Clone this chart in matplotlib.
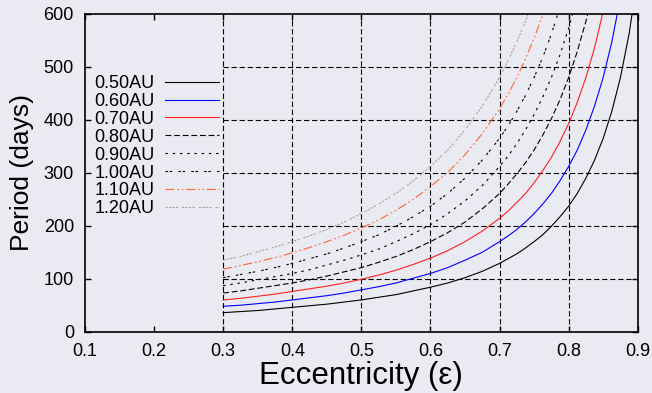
import matplotlib
matplotlib.use("Agg")
import matplotlib.pyplot as plt

plt.rcParams['font.family'] = ['Liberation Sans', 'DejaVu Sans']
plt.rcParams['lines.scale_dashes'] = False

# ---- data ----
ecc = [0.300, 0.325, 0.350, 0.375, 0.400, 0.425, 0.450, 0.475, 0.500,
       0.525, 0.550, 0.575, 0.600, 0.625, 0.650, 0.675, 0.700,
       0.7125, 0.725, 0.7375, 0.750, 0.7625, 0.775, 0.7875, 0.800,
       0.8125, 0.825, 0.8375, 0.850, 0.8625, 0.875, 0.8875, 0.900]

p_050 = [36, 38, 40, 43, 46, 49, 52, 56, 60, 65, 70, 77, 84, 92, 102, 114, 129,
         138, 147, 158, 170, 183, 199, 217, 237, 261, 290, 324, 365, 416, 480, 562, 671]
p_060 = [48, 50, 53, 56, 60, 64, 68, 73, 79, 85, 92, 101, 110, 121, 135, 150, 170,
         181, 193, 207, 223, 241, 261, 285, 312, 343, 381, 426, 480, 547, 631]
p_070 = [60, 63, 67, 71, 76, 81, 86, 92, 99, 107, 116, 127, 139, 153, 170, 190, 214,
         228, 244, 261, 281, 304, 329, 359, 393, 433, 480, 536, 605]
p_080 = [73, 77, 82, 87, 92, 98, 105, 113, 121, 131, 142, 155, 170, 187, 207, 232, 261,
         279, 298, 319, 343, 371, 402, 438, 480, 529, 586, 655]
p_090 = [87, 92, 98, 104, 110, 117, 126, 135, 145, 156, 170, 185, 202, 223, 247, 276, 312,
         332, 355, 381, 410, 443, 480, 523, 573, 631]
p_100 = [102, 108, 114, 121, 129, 138, 147, 158, 170, 183, 199, 217, 237, 261, 290, 324, 365,
         389, 416, 446, 480, 518, 562, 613]
p_110 = [118, 125, 132, 140, 149, 159, 170, 182, 196, 211, 229, 250, 274, 301, 334, 374, 421,
         449, 480, 515, 554, 598, 649]
p_120 = [135, 142, 151, 160, 170, 181, 193, 207, 223, 241, 261, 285, 312, 343, 381, 426, 480,
         512, 547, 586, 631]

labels = ['0.50AU', '0.60AU', '0.70AU', '0.80AU', '0.90AU', '1.00AU', '1.10AU', '1.20AU']
series = [p_050, p_060, p_070, p_080, p_090, p_100, p_110, p_120]

x_ticks = [0.1, 0.2, 0.3, 0.4, 0.5, 0.6, 0.7, 0.8, 0.9]
y_ticks = [0, 100, 200, 300, 400, 500, 600]
grid_x = [0.3, 0.4, 0.5, 0.6, 0.7, 0.8]
grid_y = [100, 200, 300, 400, 500]

# ---- styles ----
colors = ['black', '#0000ff', '#ff2020', 'black', 'black', 'black', '#ff6633', '#a0a0a0']
styles = ['-', '-', '-',
          (0, (4.2, 2.0)),
          (0, (1.8, 3.4)),
          (0, (1.8, 1.2, 1.8, 4.5)),
          (0, (6.5, 2.0, 1.2, 2.0, 1.2, 2.0)),
          (0, (1.5, 1.0, 1.5, 1.0, 1.5, 1.0, 1.5, 3.0))]

bg = '#eaeaf2'
fig = plt.figure(figsize=(6.52, 3.93), dpi=100, facecolor=bg)
ax = fig.add_axes([85/652, 1 - 331.7/393, 552.7/652, 317.7/393])
ax.set_facecolor(bg)

# grid (drawn only over the plotted region as in the reference)
ax.vlines(grid_x, y_ticks[0], y_ticks[-1], colors='black', linewidth=0.8,
          linestyles=(0, (3.8, 2.0)), zorder=1)
ax.hlines(grid_y, grid_x[0], x_ticks[-1], colors='black', linewidth=0.8,
          linestyles=(0, (3.8, 2.0)), zorder=1)

for p, lab, c, ls in zip(series, labels, colors, styles):
    ax.plot(ecc[:len(p)], p, color=c, linestyle=ls, linewidth=0.8, label=lab, zorder=2)

ax.set_xlim(x_ticks[0], x_ticks[-1])
ax.set_ylim(y_ticks[0], y_ticks[-1])
ax.set_xticks(x_ticks)
ax.set_xticklabels([f'{v:.1f}' for v in x_ticks])
ax.set_yticks(y_ticks)
ax.set_yticklabels([str(v) for v in y_ticks])
ax.tick_params(direction='in', top=True, right=True, length=4, width=1,
               labelsize=13, pad=8, colors='black')
for s in ax.spines.values():
    s.set_linewidth(1.2)

ax.set_xlabel('Eccentricity (ε)', fontsize=22.5, labelpad=1)
ax.set_ylabel('Period (days)', fontsize=19, labelpad=7)

leg = ax.legend(loc='upper left', bbox_to_anchor=(0.0163, 0.808), markerfirst=False,
                frameon=False, fontsize=13, handlelength=2.95, handletextpad=0.62,
                labelspacing=0.05, borderpad=0, borderaxespad=0)

fig.savefig('out.png', dpi=100, facecolor=bg)
